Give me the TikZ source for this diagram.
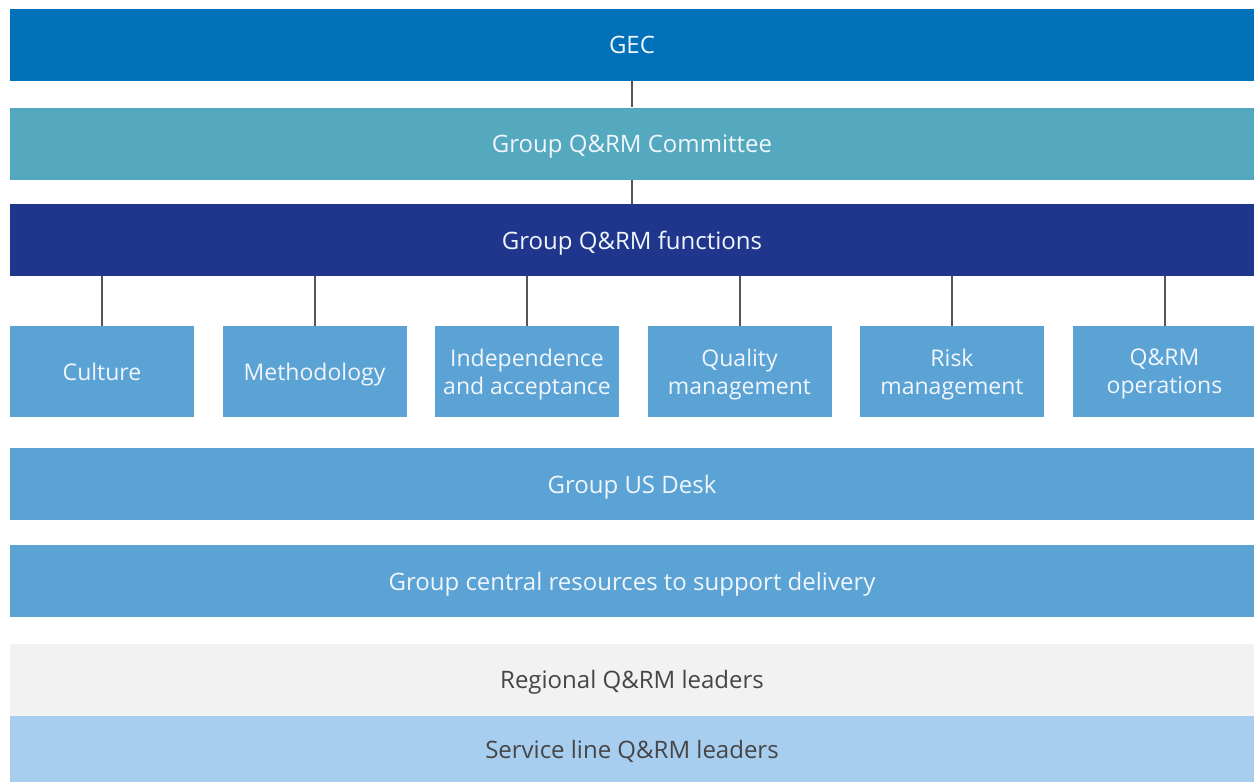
\documentclass[tikz,border=0pt]{standalone}
\usepackage{fontspec}
\setmainfont{Open Sans}
\usetikzlibrary{positioning}
\definecolor{gecblue}{RGB}{0,112,184}
\definecolor{tealbar}{RGB}{85,169,191}
\definecolor{navybar}{RGB}{32,54,140}
\definecolor{midblue}{RGB}{91,162,213}
\definecolor{palegrey}{RGB}{242,242,242}
\definecolor{paleblue}{RGB}{167,206,238}
\definecolor{linkgrey}{RGB}{85,85,85}
\definecolor{lighttext}{RGB}{240,246,252}
\definecolor{darktext}{RGB}{70,70,70}
\tikzset{
  bar/.style  ={inner sep=0pt, minimum width=622pt, minimum height=36pt, text depth=0pt,
                text=lighttext, font=\fontsize{12}{14}\selectfont},
  unit/.style ={fill=midblue, inner sep=0pt, minimum width=92pt, minimum height=45.5pt,
                text depth=0pt, text=lighttext, align=center, font=\fontsize{11.5}{14}\selectfont},
  link/.style ={draw=linkgrey, line width=1pt},
}
\begin{document}
\begin{tikzpicture}[x=0.5pt,y=-0.5pt]
\useasboundingbox (0,0) rectangle (1254,782);
% governance bars
\node[bar,fill=gecblue]  (gec) at (632,45)    {GEC};
\node[bar,fill=tealbar]  (cmt) at (632,143.5) {Group Q\&RM Committee};
\node[bar,fill=navybar]  (fun) at (632,240)   {Group Q\&RM functions};
\draw[link] (gec) -- (cmt);
\draw[link] (cmt) -- (fun);
% functions
\foreach \n/\txt [count=\i from 0] in {cul/Culture, met/Methodology,
    ind/{Independence\\and acceptance}, qua/{Quality\\management},
    rsk/{Risk\\management}, ops/{Q\&RM\\operations}}{
  \node[unit] (\n) at (102+212.5*\i,371.5) {\txt};
  \draw[link] (\n.north) -- (\n.north |- fun.south);
}
% support and delivery
\node[bar,fill=midblue]  (usd) at (632,484)   {Group US Desk};
\node[bar,fill=midblue]  (res) at (632,581)   {Group central resources to support delivery};
\node[bar,fill=palegrey,text=darktext] (reg) at (632,679.5) {Regional Q\&RM leaders};
\node[bar,fill=paleblue,text=darktext,minimum height=33pt] (svc) at (632,749) {Service line Q\&RM leaders};
\end{tikzpicture}
\end{document}
